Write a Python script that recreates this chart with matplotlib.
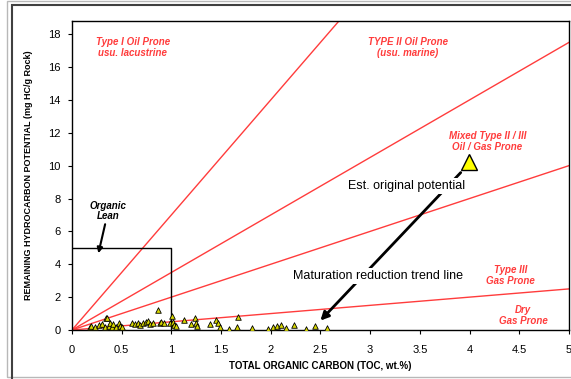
import matplotlib.pyplot as plt
from matplotlib.patches import Rectangle

plt.rcParams['font.family'] = ['Liberation Sans', 'DejaVu Sans']

# hydrogen index boundary lines (S2 = slope * TOC)
hi_slopes = [7.0, 3.5, 2.0, 0.5]

# measured samples
toc = [0.18, 0.19, 0.23, 0.27, 0.30, 0.33, 0.34, 0.35, 0.37, 0.38, 0.40, 0.41,
       0.44, 0.47, 0.48, 0.50, 0.60, 0.63, 0.66, 0.68, 0.71, 0.74, 0.77, 0.79,
       0.82, 0.87, 0.89, 0.90, 0.93, 0.99, 1.01, 1.02, 1.03, 1.05, 1.13, 1.20,
       1.24, 1.25, 1.26, 1.39, 1.45, 1.47, 1.49, 1.58, 1.66, 1.67, 1.81, 1.97,
       2.02, 2.06, 2.10, 2.15, 2.23, 2.35, 2.44, 2.57]
s2 = [0.20, 0.24, 0.20, 0.30, 0.36, 0.20, 0.71, 0.75, 0.24, 0.40, 0.20, 0.36,
      0.16, 0.40, 0.24, 0.20, 0.40, 0.36, 0.44, 0.30, 0.40, 0.46, 0.55, 0.36,
      0.40, 1.20, 0.40, 0.50, 0.44, 0.40, 0.85, 0.50, 0.30, 0.24, 0.60, 0.36,
      0.71, 0.45, 0.24, 0.36, 0.60, 0.40, 0.20, 0.04, 0.20, 0.80, 0.10, 0.04,
      0.20, 0.24, 0.30, 0.10, 0.30, 0.04, 0.22, 0.10]

original_point = (3.99, 10.2)
trend_start = (3.93, 9.7)
trend_end = (2.48, 0.45)

lean_box = (1.0, 5.0)

x_ticks = [0, 0.5, 1, 1.5, 2, 2.5, 3, 3.5, 4, 4.5, 5]
x_labels = ['0', '0.5', '1', '1.5', '2', '2.5', '3', '3.5', '4', '4.5', '5']
y_ticks = list(range(0, 19, 2))

fig = plt.figure(figsize=(5.71, 3.79), dpi=100)
ax = fig.add_axes([0.126, 0.1293, 0.8705, 0.8153])

# chart frames
fig.patches.append(Rectangle((7 / 571, 2 / 379), 1.0, 376.5 / 379, transform=fig.transFigure,
                             fill=False, edgecolor='#b8b8b8', lw=1.0))
fig.patches.append(Rectangle((12 / 571, -5 / 379), 1.0, 379.5 / 379, transform=fig.transFigure,
                             fill=False, edgecolor='#404040', lw=1.5))

red = '#ff3c3c'
xmax = 5.0
for k in hi_slopes:
    ax.plot([0, xmax], [0, k * xmax], color=red, lw=1.0, zorder=2)

ax.plot([0, lean_box[0], lean_box[0]], [lean_box[1], lean_box[1], 0], color='black', lw=1.0, zorder=2)

ax.scatter(toc, s2, marker='^', s=16, facecolor='#d8d800', edgecolor='black', linewidths=0.6, zorder=4)
ax.plot(*original_point, marker='^', ms=12, mfc='#ffff00', mec='black', mew=1.0, zorder=5)

ax.annotate('', xy=trend_end, xytext=trend_start,
            arrowprops=dict(arrowstyle='-|>', color='black', lw=2.0, mutation_scale=12), zorder=3)
ax.text(3.37, 8.75, 'Est. original potential', fontsize=9, ha='center', va='center',
        bbox=dict(facecolor='white', edgecolor='none', pad=1.5), zorder=4)
ax.text(3.08, 3.3, 'Maturation reduction trend line', fontsize=9, ha='center', va='center',
        bbox=dict(facecolor='white', edgecolor='none', pad=1.5), zorder=4)

ax.annotate('', xy=(0.26, 4.5), xytext=(0.34, 6.6),
            arrowprops=dict(arrowstyle='-|>', color='black', lw=1.5, mutation_scale=8))
ax.text(0.36, 7.25, 'Organic\nLean', fontsize=7, style='italic', weight='bold',
        ha='center', va='center', linespacing=1.0)

lab = dict(color=red, fontsize=7, style='italic', weight='bold', ha='center', va='center',
           linespacing=1.15)
ax.text(0.61, 17.2, 'Type I Oil Prone\nusu. lacustrine', **lab)
ax.text(3.38, 17.2, 'TYPE II Oil Prone\n(usu. marine)', **lab)
ax.text(4.18, 11.45, 'Mixed Type II / III\nOil / Gas Prone', **lab)
ax.text(4.41, 3.3, 'Type III\nGas Prone', **lab)
ax.text(4.54, 0.9, 'Dry\nGas Prone', **lab)

ax.set_xlim(0, 5)
ax.set_ylim(0, 18.8)
ax.set_xticks(x_ticks)
ax.set_xticklabels(x_labels)
ax.set_yticks(y_ticks)
ax.tick_params(axis='x', direction='out', length=3, labelsize=8, pad=8)
ax.tick_params(axis='y', direction='out', length=3, labelsize=8, pad=5)
for sp in ax.spines.values():
    sp.set_linewidth(1.0)

ax.set_xlabel('TOTAL ORGANIC CARBON (TOC, wt.%)', fontsize=7, weight='bold', labelpad=4)
ax.set_ylabel('REMAINING HYDROCARBON POTENTIAL (mg HC/g Rock)', fontsize=6.5, weight='bold', labelpad=11)

fig.savefig('out.png', dpi=100)
